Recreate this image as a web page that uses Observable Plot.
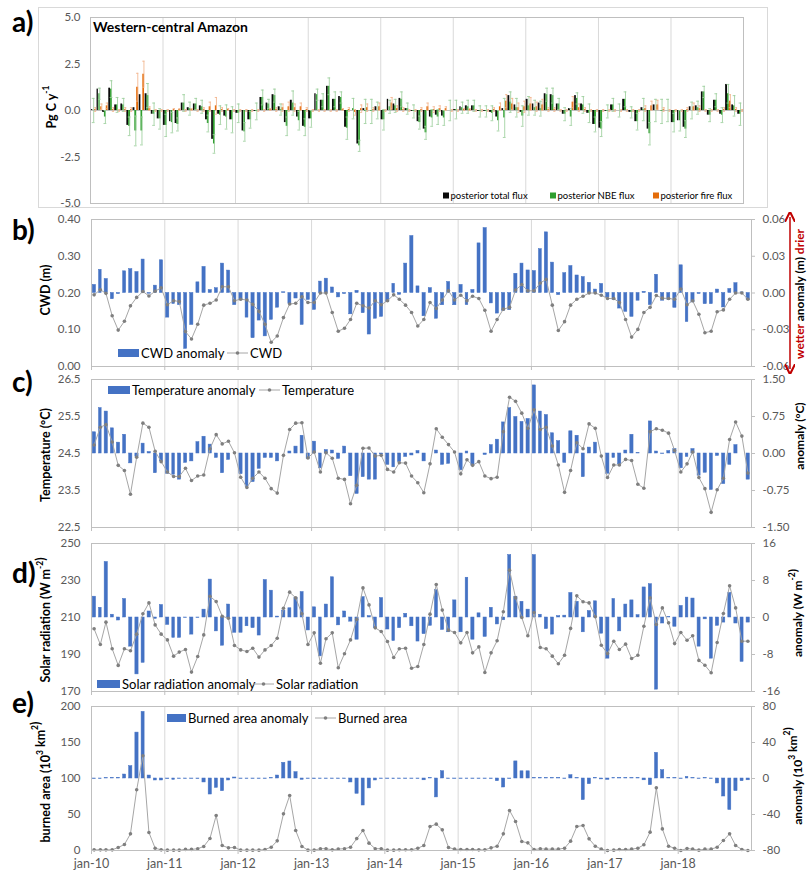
<!DOCTYPE html>
<html><head><meta charset="utf-8">
<script src="https://cdn.jsdelivr.net/npm/d3@7"></script>
<script src="https://cdn.jsdelivr.net/npm/@observablehq/plot@0.6"></script>
<style>
body{margin:0;background:#fff;font-family:Lato,sans-serif;}
#wrap{position:relative;width:807px;height:874px;overflow:hidden;background:#fff;}
#wrap svg.pnl{position:absolute;left:0;}
#ov{position:absolute;left:0;top:0;pointer-events:none;}
</style></head><body><div id="wrap"></div>
<script>
// ---------------- data (monthly, jan-2010 .. dec-2018) ----------------
const xLabels = ["jan-10","jan-11","jan-12","jan-13","jan-14","jan-15","jan-16","jan-17","jan-18"];

// panel a: posterior fluxes (Pg C / y)
const total = [
 0.05,1.15,-0.1,1.2,0.3,0.35,-0.8,0.15,0.85,0.9,-0.2,-0.45,
 -0.8,-0.6,-0.7,0.4,0.15,0.35,0.25,-0.5,-1.55,-0.2,-0.3,-0.5,
 -0.15,-1.1,-0.5,-0.05,0.7,0.4,0.85,0.2,-0.65,0.55,-0.35,-0.85,
 -0.45,0.9,0.55,1.3,0.6,0.75,-0.9,0.0,-1.8,0.1,0.0,0.2,
 -0.5,0.6,0.35,0.65,0.1,-0.05,-0.6,-1.0,-0.35,-0.25,-0.3,0.0,
 0.05,0.2,0.25,0.25,-0.05,-0.05,-0.1,-0.35,0.1,0.8,0.3,-0.1,
 0.6,0.35,0.4,0.9,0.85,0.35,-0.2,0.1,0.8,0.35,-0.15,-0.75,
 -0.95,-0.05,0.3,0.0,0.6,-0.1,-0.6,0.15,-1.0,0.3,0.0,0.0,
 -0.65,-0.55,-0.9,0.2,0.25,1.0,-0.25,0.55,-0.2,1.4,0.3,-0.2];
const nbe = [
 0.0,0.9,-0.35,1.15,0.3,0.3,-0.85,-1.1,-1.1,0.8,-0.2,-0.45,
 -0.8,-0.65,-0.75,0.4,0.1,0.35,0.2,-0.7,-1.8,-0.25,-0.35,-0.5,
 -0.15,-1.15,-0.5,-0.05,0.7,0.35,0.8,0.05,-0.85,0.4,-0.55,-0.9,
 -0.45,0.85,0.55,1.3,0.6,0.7,-0.95,0.1,-1.9,-0.05,-0.05,0.0,
 -0.5,0.2,0.25,0.6,0.1,-0.05,-0.65,-1.2,-0.4,-0.35,-0.4,0.0,
 0.05,0.15,0.2,0.25,-0.05,-0.05,-0.15,-0.55,-0.4,0.45,0.15,-0.3,
 0.25,0.15,0.1,0.85,0.8,0.35,-0.2,-0.35,0.65,0.3,-0.15,-0.75,
 -1.0,-0.05,0.3,0.0,0.6,-0.1,-0.6,0.05,-1.25,0.0,-0.05,0.0,
 -0.65,-0.55,-1.0,0.0,0.15,1.0,-0.25,0.55,-0.25,0.9,0.25,-0.2];
const fire = [
 0.05,0.2,0.25,0.05,0.0,0.05,0.05,1.25,1.95,0.1,0.0,0.0,
 0.0,0.05,0.05,0.0,0.05,0.0,0.05,0.2,0.25,0.05,0.05,0.0,
 0.0,0.0,0.0,0.0,0.0,0.05,0.05,0.15,0.2,0.15,0.2,0.05,
 0.0,0.0,0.0,0.0,0.0,0.05,0.05,-0.1,0.1,0.15,0.05,0.2,
 0.0,0.4,0.1,0.05,0.0,0.0,0.05,0.2,0.05,0.1,0.1,0.0,
 0.0,0.05,0.05,0.0,0.0,0.0,0.05,0.2,0.5,0.35,0.15,0.2,
 0.35,0.2,0.3,0.05,0.05,0.0,0.0,0.45,0.15,0.05,0.0,0.0,
 0.0,0.0,0.0,0.0,0.0,0.0,0.0,0.1,0.25,0.3,0.05,0.0,
 0.0,0.0,0.05,0.2,0.1,0.0,0.0,0.0,0.05,0.5,0.05,0.0];
const nbeErr = [
 0.65,0.3,0.35,0.45,0.4,0.35,0.5,0.8,0.75,0.65,0.6,0.55,
 0.6,0.55,0.35,0.45,0.35,0.3,0.35,0.45,0.5,0.5,0.65,0.7,
 0.5,0.5,0.45,0.45,0.4,0.25,0.35,0.3,0.5,0.65,0.5,0.45,
 0.45,0.3,0.35,0.45,0.4,0.3,0.6,0.55,0.3,0.65,0.65,0.45,
 0.55,0.35,0.35,0.4,0.3,0.35,0.35,0.35,0.45,0.4,0.4,0.55,
 0.5,0.3,0.35,0.3,0.3,0.3,0.4,0.55,1.05,0.55,0.5,0.55,
 0.5,0.4,0.4,0.35,0.4,0.3,0.35,0.45,0.3,0.45,0.5,0.4,
 0.4,0.35,0.35,0.35,0.4,0.3,0.45,0.6,0.6,0.6,0.65,0.6,
 0.5,0.55,0.45,0.45,0.35,0.3,0.35,0.35,0.4,0.5,0.55,0.6];
const fireErr = [
 0.1,0.15,0.15,0.1,0.05,0.1,0.1,0.75,0.7,0.1,0.05,0.05,
 0.05,0.05,0.05,0.05,0.05,0.05,0.1,0.25,0.45,0.1,0.05,0.05,
 0.05,0.05,0.05,0.05,0.05,0.05,0.1,0.2,0.25,0.2,0.2,0.1,
 0.05,0.05,0.05,0.05,0.05,0.05,0.1,0.15,0.2,0.2,0.1,0.2,
 0.05,0.3,0.15,0.1,0.05,0.05,0.1,0.2,0.15,0.15,0.1,0.05,
 0.05,0.05,0.05,0.05,0.05,0.05,0.1,0.2,0.35,0.3,0.25,0.3,
 0.35,0.25,0.3,0.1,0.1,0.05,0.05,0.3,0.2,0.1,0.05,0.05,
 0.05,0.05,0.05,0.05,0.05,0.05,0.05,0.15,0.25,0.25,0.1,0.05,
 0.05,0.05,0.1,0.2,0.15,0.05,0.05,0.05,0.1,0.35,0.1,0.05];

// panel b: CWD (m) and anomaly (m)
const cwdAnom = [
 0.0066,0.0189,0.0114,-0.0051,-0.0009,0.0177,0.0195,0.0171,0.0273,-0.0006,0.006,0.0267,
 -0.0201,-0.009,-0.0099,-0.0456,-0.0261,0.0087,0.0213,0.0024,0.0039,0.024,0.0183,-0.0099,
 -0.006,-0.0201,-0.0369,-0.0225,-0.0354,-0.0219,-0.012,0.0006,-0.009,-0.0045,-0.0261,-0.0057,
 -0.0138,0.0093,0.0117,0.0045,-0.0036,-0.0009,-0.0174,0.0018,-0.0165,-0.0339,-0.021,-0.0195,
 -0.0075,0.0075,-0.0015,0.024,0.0465,0.0054,-0.019,0.004,-0.021,-0.01,0.009,-0.01,
 0.0066,-0.0099,0.0025,0.0405,0.053,-0.0085,-0.0168,-0.0146,-0.014,0.0157,0.024,0.0184,
 0.0179,0.0358,0.0495,0.0248,-0.0017,0.0162,0.022,0.0143,0.013,0.0083,0.0028,0.0074,
 -0.0036,-0.0058,-0.0127,-0.0154,-0.0195,-0.0063,0.001,-0.0099,0.0149,-0.0063,-0.0058,-0.0121,
 0.0226,-0.0237,-0.0077,-0.0008,-0.0091,-0.0091,0.0028,-0.0118,0.0033,0.008,0.0005,-0.0058];
const cwd = [
 0.195,0.209,0.199,0.138,0.099,0.123,0.165,0.188,0.204,0.192,0.205,0.214,
 0.168,0.179,0.177,0.095,0.075,0.115,0.167,0.172,0.181,0.217,0.217,0.179,
 0.183,0.181,0.169,0.15,0.115,0.066,0.083,0.133,0.17,0.172,0.19,0.174,
 0.174,0.2,0.2,0.147,0.096,0.104,0.128,0.172,0.165,0.159,0.179,0.168,
 0.179,0.195,0.183,0.167,0.147,0.11,0.128,0.174,0.158,0.181,0.206,0.181,
 0.194,0.179,0.191,0.185,0.153,0.096,0.128,0.156,0.161,0.208,0.223,0.206,
 0.206,0.227,0.237,0.167,0.098,0.122,0.167,0.183,0.191,0.2,0.2,0.194,
 0.185,0.185,0.174,0.128,0.08,0.101,0.147,0.161,0.193,0.186,0.185,0.183,
 0.211,0.168,0.179,0.142,0.092,0.096,0.149,0.154,0.183,0.2,0.2,0.183];

// panel c: temperature (°C) and anomaly (°C)
const tempAnom = [
 0.43,0.92,0.85,0.51,0.22,0.38,-0.2,-0.07,0.2,0.03,-0.4,-0.16,
 -0.41,-0.43,-0.53,-0.19,-0.16,0.23,0.34,0.18,-0.09,-0.4,-0.13,0.0,
 -0.42,-0.68,-0.58,-0.31,-0.09,-0.09,-0.16,0.0,0.04,0.14,0.36,-0.11,
 0.24,-0.3,0.07,0.06,-0.11,0.14,-0.46,-0.82,-0.48,-0.53,-0.53,-0.02,
 -0.23,-0.28,-0.17,-0.07,-0.04,0.05,-0.16,0.0,0.06,-0.23,-0.21,0.0,
 -0.34,0.04,-0.24,0.0,-0.03,0.17,0.28,0.63,0.92,0.74,0.64,0.7,
 1.38,0.85,0.78,0.41,0.25,-0.19,0.45,0.36,-0.48,0.12,0.22,0.0,
 -0.41,-0.09,-0.22,0.06,0.38,0.01,0.0,0.65,0.04,-0.01,0.05,0.09,
 -0.3,-0.07,0.09,-0.45,-0.39,-0.74,-0.05,-0.62,-0.23,0.17,0.0,-0.53];
const temp = [
 24.73,25.21,25.28,24.81,24.18,24.04,23.4,24.4,25.32,25.21,24.56,24.28,
 24.0,23.88,23.88,24.1,23.77,23.89,23.92,24.63,25.01,24.76,24.83,24.52,
 23.86,23.58,23.83,24.0,23.83,23.55,23.43,24.45,25.15,25.32,25.33,24.38,
 24.54,24.0,24.52,24.37,23.83,23.8,23.14,23.64,24.64,24.65,24.43,24.45,
 24.07,24.0,24.25,24.24,23.89,23.71,23.44,24.22,25.17,24.94,24.74,24.54,
 23.95,24.33,24.18,24.28,23.89,23.82,23.86,25.09,26.02,25.91,25.59,25.18,
 25.68,25.15,25.21,24.7,24.19,23.45,24.04,24.79,24.63,25.3,25.18,24.43,
 23.85,24.19,24.19,24.34,24.31,23.67,23.56,25.09,25.17,25.13,25.05,24.58,
 24.0,24.22,24.54,23.85,23.55,22.91,23.52,23.83,24.88,25.35,24.97,23.97];

// panel d: solar radiation (W m-2) and anomaly
const srAnom = [
 4.5,2.1,12.0,0.6,-0.65,4.0,-6.3,-12.3,-9.8,1.3,-0.3,2.7,
 -1.6,-4.4,-4.4,-0.1,-3.7,-0.1,1.7,8.2,-3.0,-6.1,2.8,-3.3,
 -3.3,-1.9,-2.3,-3.9,8.1,5.8,0.2,1.5,2.0,4.2,5.5,-2.8,
 2.2,-8.4,2.8,8.7,-1.7,1.3,-0.9,-4.8,4.4,0.3,-2.3,4.2,
 -2.6,-5.1,-2.3,0.8,-1.9,-5.2,-3.6,-1.8,5.9,-2.7,-3.2,3.7,
 -3.2,8.6,-4.8,0.9,-4.2,2.1,-1.5,-0.6,13.5,4.5,3.4,1.7,
 13.5,0.6,-2.5,-3.7,0.3,0.4,5.3,3.4,-3.2,1.4,3.5,-3.5,
 -8.9,4.0,-3.0,2.8,3.7,0.5,6.5,7.2,-15.6,-1.3,0.1,-2.0,
 2.5,4.3,4.1,-6.3,-0.4,-8.9,-1.8,-1.1,5.3,-1.3,-9.6,-1.1];
const sr = [
 203.9,195.4,207.5,193.1,184.1,193.1,192.0,201.0,212.0,217.9,206.0,201.0,
 197.9,189.1,191.3,192.7,180.5,188.9,200.6,221.5,218.6,210.7,209.6,194.9,
 192.5,191.6,193.4,188.6,192.5,194.9,198.8,215.0,223.7,220.6,212.0,195.4,
 201.7,185.3,198.5,201.7,182.8,190.4,197.9,208.9,226.0,216.8,204.4,202.4,
 197.0,188.4,193.1,193.4,182.6,183.5,195.4,211.8,227.8,214.0,203.2,201.9,
 196.3,201.9,190.9,194.1,180.3,190.9,197.4,213.1,235.6,220.6,210.0,200.1,
 212.7,193.8,193.1,189.1,185.0,189.6,204.1,221.7,218.5,217.9,210.4,195.0,
 190.5,197.2,192.7,195.6,187.8,189.6,205.3,220.6,206.2,215.2,207.1,195.9,
 201.9,197.7,200.1,186.8,184.2,180.1,196.5,212.2,227.1,215.2,197.2,197.2];

// panel e: burned area (10^3 km2) and anomaly
const baAnom = [
 -0.6,-0.6,0.4,0.6,0.7,4.4,13.7,51,74,3.3,-2.2,-2.2,
 -0.7,-1.5,-0.5,-0.5,-0.5,-0.6,-4.4,-17.8,-10.4,-14.1,-2.2,1.1,
 -0.5,-0.5,-0.5,-0.5,-0.5,0.5,3.3,17.4,18.9,7.0,-1.5,-0.5,
 -0.7,-0.5,-0.5,-0.5,-0.5,-0.5,-4.4,-17,-30,-11,-2.2,-0.5,
 -0.5,-0.7,-0.5,-0.5,-0.5,-0.5,-2.0,0.5,-21,8.1,-0.5,-0.5,
 -0.5,-0.5,-0.5,-0.5,-0.5,-0.6,-3.0,-10,-0.6,19,8,8,
 0.6,0.6,0.5,0.5,0.5,-0.5,3.7,0.5,-24,-6.3,0.6,-1.0,
 -1.5,0.5,0.5,0.5,0.5,0.5,-2.0,-7.4,28.5,9.2,0.6,0.5,
 -0.5,1.8,0.5,-0.5,0.5,-0.5,-5.5,-20,-35,-14,-3.0,-2.0];
const ba = [
 0.9,0.9,0.9,0.9,4.2,8.3,23.1,84.3,131.5,25.0,3.2,0.9,
 0.5,0.5,0.5,1.5,1.5,2.5,5.6,16.7,48.6,6.9,3.7,4.2,
 0.5,0.5,0.5,0.5,1.4,4.6,13.4,50.9,76.4,27.8,5.6,0.5,
 0.5,2.5,2.5,0.9,2.0,2.5,4.6,16.5,27.8,10.2,2.5,2.5,
 0.5,0.5,1.0,1.0,1.0,3.2,6.9,33.3,36.6,28.7,4.2,1.9,
 1.4,1.4,1.4,0.9,0.9,3.7,6.0,23.1,55.6,40.3,12.5,10.6,
 1.4,2.3,1.9,1.9,1.9,3.2,13.0,33.3,34.7,16.2,6.0,1.9,
 0.0,0.5,1.4,1.4,1.9,3.2,7.9,25.5,87.0,30.0,6.0,3.2,
 0.0,2.8,1.9,0.5,1.9,1.9,4.6,13.9,23.1,6.9,1.4,0.0];

// ---------------- setup ----------------
const start = new Date(Date.UTC(2010,0,1)), end = new Date(Date.UTC(2019,0,1));
const months = d3.utcMonth.range(start, end);
const gridYears = d3.utcYear.range(new Date(Date.UTC(2011,0,1)), end);
const tickYears = d3.utcYear.range(start, end);
const off = (d, n) => d3.utcDay.offset(d, n);
const wrap = document.getElementById("wrap");
const FONT = "Lato, 'Open Sans', sans-serif";
const TICK = "#595959", LINE = "#bfbfbf", GRID = "#d9d9d9", BLUE = "#4472C4";
const TFS = 11.5;

function place(svg, top) { svg.classList.add("pnl"); svg.style.top = top + "px"; wrap.appendChild(svg); }

// ---------------- panel a ----------------
const rowsA = months.map((date, i) => ({date, t: total[i], n: nbe[i], f: fire[i], ne: nbeErr[i], fe: fireErr[i]}));
const ERRG = "#9ccf9c", ERRO = "#f2b48c";
place(Plot.plot({
  width: 807, height: 210, marginTop: 17, marginBottom: 7, marginLeft: 90, marginRight: 64,
  style: {fontFamily: FONT, fontSize: "12px", background: "transparent", overflow: "visible"},
  x: {type: "utc", domain: [start, end], axis: null},
  y: {domain: [-5, 5], axis: null},
  marks: [
    Plot.ruleX(gridYears, {stroke: GRID}),
    Plot.ruleX([end], {stroke: GRID}),
    Plot.ruleY([0], {stroke: LINE}),
    Plot.rectY(rowsA, {x: "date", interval: "month", y1: 0, y2: "t", fill: "#0a0a0a", insetLeft: 0.4, insetRight: 3.85}),
    Plot.rectY(rowsA, {x: "date", interval: "month", y1: 0, y2: "n", fill: "#2e9e2e", insetLeft: 2.2, insetRight: 2.05}),
    Plot.rectY(rowsA, {x: "date", interval: "month", y1: 0, y2: "f", fill: "#e46c0a", insetLeft: 4.05, insetRight: 0.2}),
    Plot.ruleX(rowsA, {x: d => off(d.date, 16), y1: d => d.n - d.ne, y2: d => d.n + d.ne, stroke: ERRG, strokeOpacity: 0.85}),
    Plot.ruleY(rowsA, {y: d => d.n + d.ne, x1: d => off(d.date, 9), x2: d => off(d.date, 23), stroke: ERRG, strokeOpacity: 0.85}),
    Plot.ruleY(rowsA, {y: d => d.n - d.ne, x1: d => off(d.date, 9), x2: d => off(d.date, 23), stroke: ERRG, strokeOpacity: 0.85}),
    Plot.ruleX(rowsA, {x: d => off(d.date, 26), y1: d => d.f - d.fe, y2: d => d.f + d.fe, stroke: ERRO, strokeOpacity: 0.85}),
    Plot.ruleY(rowsA, {y: d => d.f + d.fe, x1: d => off(d.date, 20), x2: d => off(d.date, 31), stroke: ERRO, strokeOpacity: 0.85}),
    Plot.ruleY(rowsA, {y: d => d.f - d.fe, x1: d => off(d.date, 20), x2: d => off(d.date, 31), stroke: ERRO, strokeOpacity: 0.85}),
    Plot.frame({stroke: LINE}),
    Plot.axisY({anchor: "left", ticks: [-5, -2.5, 0, 2.5, 5], tickFormat: d => d.toFixed(1), tickSize: 0, tickPadding: 10, label: null, fill: TICK, fontSize: TFS})
  ]
}), 0);

// ---------------- dual-axis panels ----------------
function dual(o) {
  const rows = months.map((date, i) => ({date, a: o.anom[i], v: o.vals[i]}));
  return Plot.plot({
    width: 807, height: o.h, marginTop: o.mt, marginBottom: o.mb, marginLeft: 91, marginRight: 56,
    style: {fontFamily: FONT, fontSize: "12px", background: "transparent", overflow: "visible"},
    x: {type: "utc", domain: [start, end]},
    y: {domain: o.dom},
    marks: [
      Plot.ruleX(gridYears, {stroke: GRID}),
      Plot.rectY(rows, {x: "date", interval: "month", y1: o.base, y2: d => o.base + d.a / o.k,
        fill: BLUE, stroke: BLUE, strokeWidth: 0.5, insetLeft: 1.3, insetRight: 1.7}),
      Plot.line(rows, {x: d => off(d.date, 13), y: "v", stroke: "#a6a6a6", strokeWidth: 1}),
      Plot.dot(rows, {x: d => off(d.date, 13), y: "v", r: 1.8, fill: "#7f7f7f"}),
      Plot.frame({stroke: LINE}),
      Plot.axisY({anchor: "left", ticks: o.ticks, tickFormat: o.lf, tickSize: 0, tickPadding: 11, label: null, fill: TICK, fontSize: TFS}),
      Plot.axisY({anchor: "right", ticks: o.ticks, tickFormat: o.rf, tickSize: 3, tickPadding: 8, label: null, stroke: LINE, fill: TICK, fontSize: TFS}),
      Plot.axisX({ticks: tickYears, tickSize: 4, tickPadding: 5, label: null, stroke: LINE, fill: TICK, fontSize: 12.5,
        tickFormat: o.xl ? (d => xLabels[d.getUTCFullYear() - 2010]) : (() => "")})
    ]
  });
}

place(dual({anom: cwdAnom, vals: cwd, base: 0.2, k: 0.3, dom: [0, 0.4], ticks: [0, 0.1, 0.2, 0.3, 0.4],
  lf: d => d.toFixed(2), rf: d => ((d - 0.2) * 0.3).toFixed(2).replace("-0.00", "0.00"), h: 162, mt: 9, mb: 6}), 210);
place(dual({anom: tempAnom, vals: temp, base: 24.5, k: 0.75, dom: [22.5, 26.5], ticks: [22.5, 23.5, 24.5, 25.5, 26.5],
  lf: d => d.toFixed(1), rf: d => ((d - 24.5) * 0.75).toFixed(2).replace("-0.00", "0.00"), h: 165, mt: 7, mb: 10}), 372);
place(dual({anom: srAnom, vals: sr, base: 210, k: 0.4, dom: [170, 250], ticks: [170, 190, 210, 230, 250],
  lf: d => String(d), rf: d => String(Math.round((d - 210) * 0.4)), h: 163, mt: 6, mb: 9}), 537);
place(dual({anom: baAnom, vals: ba, base: 100, k: 0.8, dom: [0, 200], ticks: [0, 50, 100, 150, 200],
  lf: d => String(d), rf: d => String(Math.round((d - 100) * 0.8)), h: 174, mt: 6, mb: 24, xl: true}), 700);

// ---------------- overlay text / legends ----------------
const ov = d3.select(wrap).append("svg").attr("id", "ov").attr("width", 807).attr("height", 874)
  .style("font-family", FONT);
ov.append("rect").attr("x", 38.5).attr("y", 7.5).attr("width", 729).attr("height", 200)
  .attr("fill", "none").attr("stroke", "#d9d9d9");

function txt(s, x, y, o = {}) {
  const t = ov.append("text").attr("x", x).attr("y", y)
    .attr("font-size", o.size || 13).attr("font-weight", o.bold ? "bold" : null)
    .attr("fill", o.fill || "#000").attr("text-anchor", o.anchor || "start");
  if (o.rot) t.attr("transform", `rotate(-90 ${x} ${y})`).attr("text-anchor", "middle").attr("dominant-baseline", "central");
  t.html(s);
  return t;
}
// panel letters
[["a)", 32], ["b)", 240], ["c)", 392], ["d)", 583], ["e)", 713]].forEach(([s, y]) => txt(s, 12, y, {size: 28, bold: true}));
txt("Western-central Amazon", 93, 32, {size: 14, bold: true});

const sup = s => `<tspan dy="-5" font-size="8.5">${s}</tspan><tspan dy="5"></tspan>`;
// left titles
txt(`Pg C y${sup("-1")}`, 51, 107, {size: 12.5, bold: true, rot: true});
txt("CWD (m)", 45, 290, {size: 12.5, bold: true, rot: true});
txt("Temperature  (°C)", 45, 455, {size: 12.5, bold: true, rot: true});
txt(`Solar radiation  (W m${sup("-2")})`, 45, 620, {size: 12.5, bold: true, rot: true});
txt(`burned area (10${sup("3")} km${sup("2")})`, 45, 782, {size: 12.5, bold: true, rot: true});
// right titles
const rb = txt("", 799, 294, {size: 12, bold: true, rot: true});
rb.html(`<tspan fill="#c00000">wetter</tspan><tspan fill="#000">   anomaly (m)   </tspan><tspan fill="#c00000">drier</tspan>`);
txt("anomaly (°C)", 799, 436, {size: 12, bold: true, rot: true});
txt(`anomaly (W m${sup("-2")})`, 797, 613, {size: 12, bold: true, rot: true});
txt(`anomaly (10${sup("3")} km${sup("2")})`, 797, 776, {size: 12, bold: true, rot: true});
// red double arrow
const defs = ov.append("defs");
defs.append("marker").attr("id", "ah").attr("viewBox", "0 0 10 10").attr("refX", 5).attr("refY", 5)
  .attr("markerWidth", 7).attr("markerHeight", 7).attr("orient", "auto-start-reverse")
  .append("path").attr("d", "M0,0 L10,5 L0,10").attr("fill", "none").attr("stroke", "#c00000").attr("stroke-width", 2);
ov.append("line").attr("x1", 790).attr("x2", 790).attr("y1", 217).attr("y2", 369).attr("stroke", "#c00000").attr("stroke-width", 1.5)
  .attr("marker-start", "url(#ah)").attr("marker-end", "url(#ah)");

// panel a legend
[["posterior total flux", "#0a0a0a", 443], ["posterior NBE flux", "#2e9e2e", 550], ["posterior fire flux", "#e46c0a", 653]].forEach(([s, c, x]) => {
  ov.append("rect").attr("x", x).attr("y", 192.5).attr("width", 6).attr("height", 6).attr("fill", c);
  txt(s, x + 7.5, 199, {size: 9.5});
});
// dual legends
function leg(x, y, w, a, lx, b) {
  ov.append("rect").attr("x", x).attr("y", y - 4).attr("width", w).attr("height", 8).attr("fill", BLUE);
  txt(a, x + w + 2, y + 4.5, {size: 13});
  ov.append("line").attr("x1", lx).attr("x2", lx + 21).attr("y1", y).attr("y2", y).attr("stroke", "#a6a6a6");
  ov.append("circle").attr("cx", lx + 10.5).attr("cy", y).attr("r", 1.8).attr("fill", "#7f7f7f");
  txt(b, lx + 23, y + 4.5, {size: 13});
}
leg(118, 353, 21, "CWD anomaly", 227, "CWD");
leg(108, 390, 22, "Temperature anomaly", 259, "Temperature");
leg(97, 684, 23, "Solar radiation anomaly", 253, "Solar radiation");
leg(167, 718, 19, "Burned area anomaly", 315, "Burned area");
</script></body></html>
